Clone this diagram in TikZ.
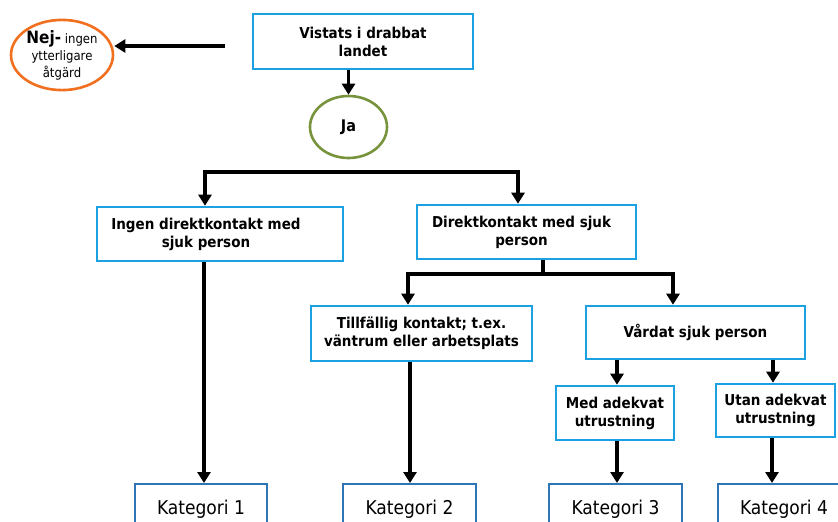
\documentclass[tikz,border=0pt]{standalone}
\usepackage{fontspec}
\setmainfont{DejaVu Sans Condensed}
\usetikzlibrary{arrows.meta,shapes.geometric}
\definecolor{boxblue}{HTML}{1BA1E2}
\definecolor{katblue}{HTML}{2E75B6}
\definecolor{nejorange}{HTML}{F07020}
\definecolor{jagreen}{HTML}{77933C}
\tikzset{
  boxtext/.style={align=center, font=\bfseries\fontsize{15}{18}\selectfont},
  box/.style={draw=boxblue, line width=2.6pt, rectangle, inner sep=0pt, boxtext},
  katbox/.style={draw=katblue, line width=2pt, rectangle, inner sep=0pt, text depth=0pt, font=\fontsize{19}{22}\selectfont},
  conn/.style={line width=3.2pt, -{Triangle[length=11pt,width=13pt]}},
  plain/.style={line width=3.2pt},
  twoway/.style={line width=3.2pt, {Triangle[length=11pt,width=13pt]}-{Triangle[length=11pt,width=13pt]}},
}
\begin{document}
\begin{tikzpicture}[x=1pt,y=-1pt]
\clip (0,0) rectangle (838,522);
\fill[white] (0,0) rectangle (838,522);
% nodes
\node[box, minimum width=220pt, minimum height=55pt] (vistats) at (363,41.5) {Vistats i drabbat\\landet};
\node[draw=nejorange, line width=2.6pt, ellipse, minimum width=102pt, minimum height=66pt, inner sep=0pt, align=center, font=\fontsize{13}{17}\selectfont] (nej) at (62,55) {{\bfseries\fontsize{17}{17}\selectfont Nej-} ingen\\ytterligare\\åtgärd};
\node[draw=jagreen, line width=2.6pt, ellipse, minimum width=77pt, minimum height=62pt, inner sep=0pt, font=\bfseries\fontsize{16}{18}\selectfont] (ja) at (348.5,127) {Ja};
\node[box, minimum width=246pt, minimum height=54pt, label={[boxtext, xshift=-14pt]center:{Ingen direktkontakt med\\sjuk person}}] (ingen) at (220,234) {};
\node[box, minimum width=219pt, minimum height=54pt, label={[boxtext, xshift=-5pt]center:{Direktkontakt med sjuk\\person}}] (direkt) at (526.5,232) {};
\node[box, minimum width=221pt, minimum height=55pt] (tillf) at (421.5,333.5) {Tillfällig kontakt; t.ex.\\väntrum eller arbetsplats};
\node[box, minimum width=219pt, minimum height=53pt] (vardat) at (695.5,332.5) {Vårdat sjuk person};
\node[box, minimum width=118pt, minimum height=54pt] (med) at (615,413) {Med adekvat\\utrustning};
\node[box, minimum width=119pt, minimum height=53pt] (utan) at (775.5,410.5) {Utan adekvat\\utrustning};
\node[katbox, minimum width=132pt, minimum height=46pt] (k1) at (201,507) {Kategori 1};
\node[katbox, minimum width=133pt, minimum height=46pt] (k2) at (409.5,507) {Kategori 2};
\node[katbox, minimum width=133pt, minimum height=46pt] (k3) at (615.5,507) {Kategori 3};
\node[katbox, minimum width=132pt, minimum height=46pt] (k4) at (784,507) {Kategori 4};
% connectors
\coordinate (nejfrom) at (225,46);
\draw[conn] (nejfrom) -- (nejfrom -| nej.east);
\draw[conn] (vistats.south -| ja.north) -- (ja.north);
\coordinate (ja1) at (205,172);
\coordinate (ja2) at (518,172);
\draw[twoway] (ja1 |- ingen.north) -- (ja1) -- (ja2) -- (ja2 |- direkt.north);
\coordinate (d0) at (543,274);
\coordinate (d1) at (408,274);
\coordinate (d2) at (673,274);
\draw[plain] (d0 |- direkt.south) -- (d0);
\draw[twoway] (d1 |- tillf.north) -- (d1) -- (d2) -- (d2 |- vardat.north);
\coordinate (c1) at (204,0);
\coordinate (c2) at (410,0);
\coordinate (c3) at (617,0);
\coordinate (c4) at (773,0);
\coordinate (c5) at (772,0);
\draw[conn] (c1 |- ingen.south) -- (c1 |- k1.north);
\draw[conn] (c2 |- tillf.south) -- (c2 |- k2.north);
\draw[conn] (c3 |- vardat.south) -- (c3 |- med.north);
\draw[conn] (c3 |- med.south) -- (c3 |- k3.north);
\draw[conn] (c4 |- vardat.south) -- (c4 |- utan.north);
\draw[conn] (c5 |- utan.south) -- (c5 |- k4.north);
\end{tikzpicture}
\end{document}
